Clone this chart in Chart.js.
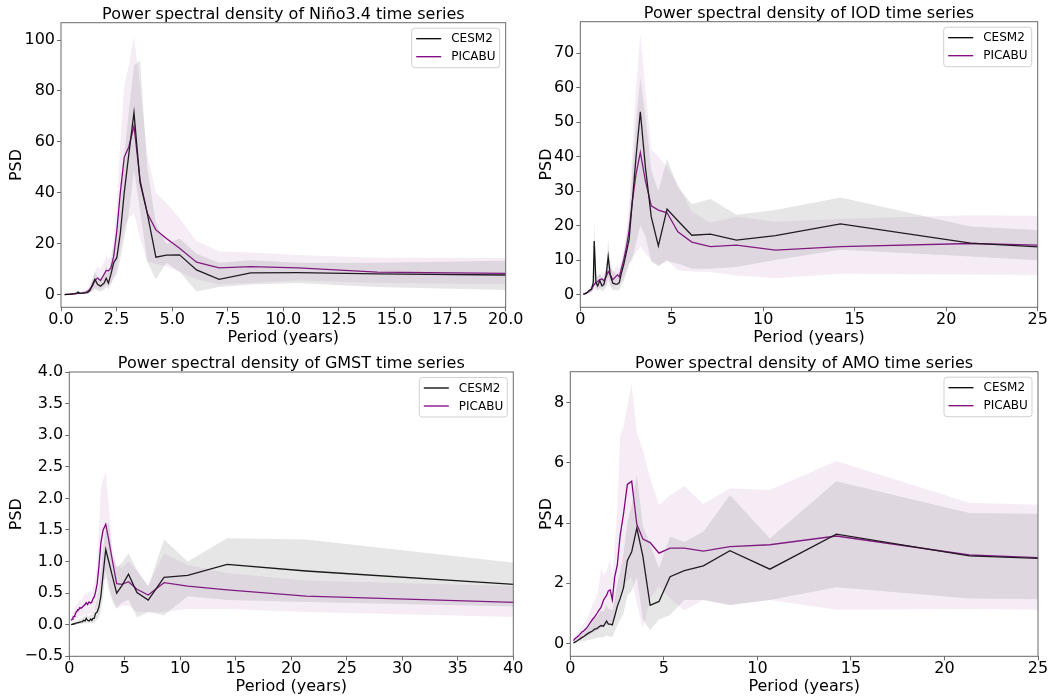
<!DOCTYPE html>
<html><head><meta charset="utf-8">
<script src="https://cdn.jsdelivr.net/npm/chart.js@4.4.1/dist/chart.umd.min.js"></script>
<style>
html,body{margin:0;padding:0;background:#fff;overflow:hidden;width:1058px;height:700px}
.panel{position:absolute;left:0;top:0;width:1058px;height:700px}
canvas{display:block}
</style></head><body>
<div class="panel"><canvas id="c1" width="1058" height="700"></canvas></div>
<div class="panel"><canvas id="c2" width="1058" height="700"></canvas></div>
<div class="panel"><canvas id="c3" width="1058" height="700"></canvas></div>
<div class="panel"><canvas id="c4" width="1058" height="700"></canvas></div>
<script>
// ---- Data (period in years) ----
const periods = [0.167, 0.251, 0.333, 0.427, 0.502, 0.610, 0.711, 0.762, 0.853, 0.948,
  1.067, 1.185, 1.293, 1.422, 1.524, 1.641, 1.778, 1.939, 2.032, 2.133,
  2.246, 2.370, 2.510, 2.667, 2.844, 3.048, 3.282, 3.556, 3.879, 4.267,
  4.741, 5.333, 6.095, 7.111, 8.533, 10.667, 14.222, 21.333, 42.667];

// Niño3.4
const ninoCesm = [0.0, 0.05, 0.1, 0.2, 0.3, 0.4, 0.6, 1.0, 0.5, 0.6,
  0.7, 0.8, 1.5, 4.0, 6.0, 4.0, 3.3, 4.5, 6.4, 4.5,
  8.0, 12.5, 14.5, 24, 40, 55, 71.5, 44, 32, 14.7,
  15.5, 15.6, 9.7, 6.0, 8.5, 8.6, 8.1, 7.6, 7.0];
const ninoPicabu = [0.0, 0.05, 0.1, 0.15, 0.2, 0.3, 0.4, 0.5, 0.5, 0.6,
  0.8, 1.2, 2.0, 3.5, 5.5, 6.5, 5.5, 8.0, 9.5, 9.3,
  10.5, 15, 25, 40, 54, 58, 66.2, 45, 32, 25.4,
  22, 18.2, 12.7, 10.5, 11, 10.5, 8.8, 8.2, 7.6];
const ninoCesmHi = [0.05, 0.1, 0.2, 0.4, 0.5, 0.7, 1.0, 1.5, 1.0, 1.1,
  1.3, 1.6, 2.8, 6.5, 9, 7, 6.5, 8, 11, 9,
  13, 19, 22, 36, 55, 72, 90, 92, 50, 28,
  20, 22, 16, 12.5, 13.5, 12.5, 12.5, 13.5, 14];
const ninoCesmLo = [0, 0, 0.02, 0.05, 0.1, 0.15, 0.2, 0.4, 0.2, 0.2,
  0.3, 0.3, 0.5, 1.5, 2.5, 1.5, 1.2, 2.0, 3.0, 2.0,
  4, 6.5, 8, 14, 22, 32, 49, 33, 13, 6,
  12.5, 9, 1.2, 3, 4, 4.5, 3, 1.5, 0.5];
const ninoPicabuHi = [0.05, 0.1, 0.2, 0.3, 0.4, 0.5, 0.7, 0.9, 0.9, 1.1,
  1.5, 2.2, 3.5, 6, 9, 11, 10, 13, 15.5, 14,
  15, 22, 35, 60, 82, 90, 101.5, 82, 55, 40,
  36, 30, 21, 17, 16.5, 15.5, 14.5, 14.5, 15];
const ninoPicabuLo = [0, 0, 0.02, 0.05, 0.05, 0.1, 0.15, 0.2, 0.2, 0.2,
  0.3, 0.5, 0.8, 1.5, 2.0, 2.5, 2.3, 3, 4, 3.5,
  4.5, 6.5, 11, 18, 26, 30, 32, 22, 13, 12,
  11, 9, 6, 4, 4.5, 5.5, 4.5, 4, 3.5];

// IOD
const iodCesm = [0.1, 0.2, 0.4, 0.8, 1.2, 1.5, 3.5, 15.5, 3.5, 2.5,
  4, 2.5, 3.0, 6, 11, 5.5, 3.3, 3.0, 3.0, 3.5,
  6.2, 8.6, 12, 16, 27, 40, 53, 37, 22.5, 14.1,
  24.8, 21.4, 17.2, 17.5, 15.8, 17.1, 20.5, 14.9, 8.5];
const iodPicabu = [0.1, 0.3, 0.5, 0.8, 1.1, 1.5, 2.5, 2.9, 3.4, 3.8,
  4.3, 4.5, 4.0, 5.2, 6.7, 5.7, 4.3, 5.2, 5.7, 5.1,
  7.5, 10, 13.5, 18.5, 27, 35, 41.2, 33, 25.7, 24.5,
  23.7, 18.2, 15.2, 13.9, 14.3, 12.9, 13.9, 14.8, 12];
const iodCesmHi = [0.2, 0.5, 0.8, 1.3, 1.8, 2.5, 5, 22, 6, 5,
  6, 5, 5, 8, 16, 9, 7, 6, 6, 6.5,
  9, 12, 16, 22, 36, 50, 63, 52, 36, 30,
  39.4, 31.2, 26.2, 27.7, 23.1, 24.5, 28.1, 19.7, 14];
const iodCesmLo = [0, 0.05, 0.1, 0.3, 0.5, 0.6, 1.5, 5, 1.5, 1.0,
  1.5, 1.0, 1.2, 2.5, 5, 2.5, 1.3, 1.2, 1.2, 1.3,
  3, 4, 6, 9, 10, 15, 20, 17, 9.5, 8.2,
  9.7, 9, 7.5, 7.5, 8, 10, 13, 11, 5];
const iodPicabuHi = [0.2, 0.5, 0.8, 1.2, 1.6, 2.5, 4, 4.5, 5, 5.5,
  6, 6.5, 6, 7, 9, 8, 6.5, 8, 8.5, 7.5,
  10, 13, 18, 26, 42, 60, 75.5, 60, 42, 40,
  37, 32, 24, 20.8, 22.6, 21.1, 22, 23, 22];
const iodPicabuLo = [0, 0.1, 0.2, 0.4, 0.5, 0.7, 1.2, 1.4, 1.6, 1.8,
  2, 2.2, 2, 2.5, 3.5, 2.8, 2, 2.5, 2.8, 2.5,
  3.5, 5, 7, 9, 11, 12, 14, 12, 10, 8.5,
  10, 7, 6.7, 6.5, 5.5, 4.7, 6, 5.8, 5];

// GMST
const gmstCesm = [0.0, 0.005, 0.01, 0.015, 0.02, 0.025, 0.03, 0.03, 0.035, 0.04,
  0.045, 0.05, 0.07, 0.06, 0.1, 0.07, 0.06, 0.09, 0.07, 0.1,
  0.1, 0.18, 0.2, 0.28, 0.45, 0.8, 1.19, 1.0, 0.77, 0.50,
  0.62, 0.80, 0.51, 0.39, 0.75, 0.78, 0.955, 0.85, 0.61];
const gmstPicabu = [0.07, 0.09, 0.12, 0.13, 0.15, 0.2, 0.22, 0.24, 0.24, 0.27,
  0.26, 0.28, 0.30, 0.32, 0.35, 0.32, 0.36, 0.34, 0.36, 0.41,
  0.44, 0.52, 0.65, 0.92, 1.30, 1.50, 1.59, 1.34, 1.02, 0.65,
  0.64, 0.68, 0.56, 0.47, 0.665, 0.61, 0.55, 0.454, 0.34];
const gmstCesmHi = [0.01, 0.02, 0.03, 0.04, 0.05, 0.06, 0.07, 0.07, 0.08, 0.09,
  0.1, 0.11, 0.14, 0.13, 0.18, 0.14, 0.13, 0.17, 0.15, 0.2,
  0.2, 0.32, 0.4, 0.55, 0.85, 1.2, 1.55, 1.63, 1.1, 0.9,
  0.98, 1.13, 0.87, 0.60, 1.35, 1.0, 1.37, 1.35, 0.93];
const gmstCesmLo = [0, 0, 0, 0.005, 0.005, 0.01, 0.01, 0.01, 0.01, 0.01,
  0.015, 0.015, 0.02, 0.02, 0.03, 0.02, 0.02, 0.03, 0.02, 0.03,
  0.03, 0.06, 0.08, 0.12, 0.2, 0.45, 0.85, 0.6, 0.4, 0.27,
  0.35, 0.4, 0.12, 0.2, 0.15, 0.45, 0.39, 0.36, 0.28];
const gmstPicabuHi = [0.15, 0.17, 0.2, 0.22, 0.25, 0.3, 0.33, 0.35, 0.36, 0.4,
  0.38, 0.42, 0.45, 0.48, 0.52, 0.48, 0.53, 0.5, 0.53, 0.6,
  0.65, 0.78, 1.0, 1.5, 2.15, 2.3, 2.42, 1.9, 1.2, 0.95,
  0.9, 1.0, 0.85, 0.62, 1.13, 0.95, 0.82, 0.7, 0.6];
const gmstPicabuLo = [0.02, 0.03, 0.05, 0.06, 0.07, 0.1, 0.11, 0.12, 0.12, 0.14,
  0.13, 0.14, 0.15, 0.16, 0.18, 0.16, 0.18, 0.17, 0.18, 0.2,
  0.22, 0.26, 0.32, 0.45, 0.6, 0.7, 0.75, 0.55, 0.35, 0.25,
  0.3, 0.3, 0.2, 0.2, 0.2, 0.25, 0.25, 0.2, 0.11];

// AMO
const amoCesm = [0.02, 0.05, 0.08, 0.12, 0.15, 0.2, 0.23, 0.25, 0.3, 0.34,
  0.38, 0.42, 0.48, 0.5, 0.55, 0.6, 0.58, 0.75, 0.65, 0.65,
  0.62, 0.9, 1.23, 1.5, 1.85, 2.75, 3.05, 3.83, 2.9, 1.27,
  1.4, 2.22, 2.42, 2.58, 3.08, 2.47, 3.63, 2.91, 2.45];
const amoPicabu = [0.1, 0.16, 0.2, 0.25, 0.3, 0.38, 0.42, 0.45, 0.5, 0.58,
  0.7, 0.8, 0.88, 1.0, 1.1, 1.2, 1.45, 1.6, 1.75, 1.78,
  1.45, 2.2, 2.6, 3.6, 4.3, 5.28, 5.39, 3.96, 3.47, 3.35,
  3.0, 3.17, 3.17, 3.07, 3.22, 3.28, 3.57, 2.94, 2.45];
const amoCesmHi = [0.06, 0.1, 0.15, 0.2, 0.28, 0.35, 0.4, 0.45, 0.55, 0.6,
  0.7, 0.75, 0.85, 0.9, 1.0, 1.1, 1.05, 1.3, 1.15, 1.15,
  1.1, 1.5, 2.0, 2.4, 3.0, 4.0, 4.6, 5.6, 3.9, 3.3,
  2.5, 3.55, 3.37, 3.71, 4.93, 3.49, 5.39, 4.33, 4.2];
const amoCesmLo = [0, 0.01, 0.02, 0.04, 0.05, 0.07, 0.08, 0.09, 0.1, 0.12,
  0.13, 0.15, 0.17, 0.18, 0.2, 0.22, 0.2, 0.28, 0.24, 0.24,
  0.22, 0.4, 0.6, 0.8, 1.0, 1.6, 1.75, 2.2, 0.8, 0.45,
  0.8, 0.95, 1.45, 1.45, 1.28, 1.45, 1.87, 1.5, 1.35];
const amoPicabuHi = [0.18, 0.25, 0.3, 0.38, 0.45, 0.55, 0.65, 0.7, 0.8, 0.9,
  1.1, 1.3, 1.4, 1.6, 1.9, 2.5, 2.3, 2.4, 2.6, 2.8,
  2.2, 3.2, 4.5, 6.9, 7.2, 7.9, 8.6, 7.0, 6.45, 5.5,
  4.6, 4.93, 5.23, 4.63, 5.15, 5.1, 6.06, 4.67, 4.3];
const amoPicabuLo = [0.02, 0.05, 0.07, 0.1, 0.12, 0.16, 0.18, 0.2, 0.22, 0.25,
  0.3, 0.35, 0.38, 0.42, 0.45, 0.5, 0.6, 0.65, 0.7, 0.72,
  0.6, 0.9, 1.2, 1.6, 1.9, 2.1, 2.2, 1.3, 0.5, 1.5,
  1.9, 1.5, 1.1, 1.45, 1.28, 1.45, 1.12, 1.15, 1.0];

// Tick labels
const ninoXTicks = [0, 2.5, 5, 7.5, 10, 12.5, 15, 17.5, 20];
const ninoYTicks = [0, 20, 40, 60, 80, 100];
const iodXTicks = [0, 5, 10, 15, 20, 25];
const iodYTicks = [0, 10, 20, 30, 40, 50, 60, 70];
const gmstXTicks = [0, 5, 10, 15, 20, 25, 30, 35, 40];
const gmstYTicks = [-0.5, 0, 0.5, 1.0, 1.5, 2.0, 2.5, 3.0, 3.5, 4.0];
const amoXTicks = [0, 5, 10, 15, 20, 25];
const amoYTicks = [0, 2, 4, 6, 8];

const seriesNames = ['CESM2', 'PICABU'];
const xLabel = 'Period (years)';
const yLabel = 'PSD';

// ---- Rendering ----
const FONT = '"DejaVu Sans", sans-serif';
const SPINE = '#6a6a6a';
const LINE_CESM = '#000000';
const LINE_PIC = '#800080';
const BAND_CESM = 'rgba(128,128,128,0.2)';
const BAND_PIC = 'rgba(128,0,128,0.075)';

function fmt(v, dec) {
  const s = Math.abs(v).toFixed(dec);
  return v < 0 ? '\u2212' + s : s;
}
function pts(ys) { return periods.map((p, i) => ({x: p, y: ys[i]})); }

const decor = {
  id: 'panelDecor',
  afterDraw(chart, args, opts) {
    const ctx = chart.ctx, a = chart.chartArea;
    ctx.save();
    ctx.strokeStyle = SPINE; ctx.lineWidth = 1;
    ctx.strokeRect(a.left, a.top, a.right - a.left, a.bottom - a.top);
    // title
    ctx.fillStyle = '#000';
    ctx.font = '16px ' + FONT;
    ctx.textAlign = 'center'; ctx.textBaseline = 'middle';
    ctx.fillText(opts.title, (a.left + a.right) / 2, a.top - 8);
    // legend
    const w = 88, h = 39.5;
    const bx = a.right - 6 - w, by = a.top + 5.5;
    ctx.beginPath();
    if (ctx.roundRect) ctx.roundRect(bx, by, w, h, 3); else ctx.rect(bx, by, w, h);
    ctx.fillStyle = 'rgba(255,255,255,0.85)'; ctx.fill();
    ctx.strokeStyle = 'rgba(204,204,204,0.9)'; ctx.lineWidth = 1; ctx.stroke();
    ctx.font = '12px ' + FONT; ctx.textAlign = 'left'; ctx.textBaseline = 'middle';
    const items = [[seriesNames[0], LINE_CESM], [seriesNames[1], LINE_PIC]];
    items.forEach((it, i) => {
      const y = by + 10.5 + i * 18;
      ctx.strokeStyle = it[1]; ctx.lineWidth = 1.3;
      ctx.beginPath(); ctx.moveTo(bx + 4.5, y); ctx.lineTo(bx + 29.5, y); ctx.stroke();
      ctx.fillStyle = '#000';
      ctx.fillText(it[0], bx + 39.5, y + 0.5);
    });
    ctx.restore();
  }
};

function makePanel(id, p) {
  const xAxisH = 40.3;
  const yAxisW = p.left - p.padLeft;
  const bandDs = (ys, color, fill) => ({
    data: pts(ys), borderWidth: 0, borderColor: 'rgba(0,0,0,0)', backgroundColor: color,
    pointRadius: 0, fill: fill, tension: 0
  });
  const lineDs = (label, ys, color) => ({
    label, data: pts(ys), borderColor: color, borderWidth: 1.3, pointRadius: 0,
    fill: false, tension: 0
  });
  new Chart(document.getElementById(id), {
    type: 'line',
    data: {
      datasets: [
        bandDs(p.cesmHi, BAND_CESM, '+1'),
        bandDs(p.cesmLo, BAND_CESM, false),
        bandDs(p.picHi, BAND_PIC, '+1'),
        bandDs(p.picLo, BAND_PIC, false),
        lineDs(seriesNames[0], p.cesm, LINE_CESM),
        lineDs(seriesNames[1], p.pic, LINE_PIC)
      ]
    },
    options: {
      responsive: false, animation: false, devicePixelRatio: 1,
      events: [],
      layout: { padding: { left: p.padLeft, right: 1058 - p.right, top: p.top, bottom: 700 - (p.bottom + xAxisH) } },
      scales: {
        x: {
          type: 'linear', min: p.xMin, max: p.xMax,
          afterBuildTicks: (ax) => { ax.ticks = p.xTicks.map(v => ({value: v})); },
          afterFit: (ax) => { ax.height = xAxisH; },
          ticks: { autoSkip: false, maxRotation: 0, padding: 0.5, color: '#000',
                   font: { family: FONT, size: 16, lineHeight: 1 },
                   callback: (v) => fmt(v, p.xDec) },
          grid: { drawOnChartArea: false, drawTicks: true, tickLength: 4, color: SPINE },
          border: { display: false },
          title: { display: true, text: xLabel, color: '#000', padding: 0,
                   font: { family: FONT, size: 16, lineHeight: 1.2 } }
        },
        y: {
          type: 'linear', min: p.yMin, max: p.yMax,
          afterBuildTicks: (ax) => { ax.ticks = p.yTicks.map(v => ({value: v})); },
          afterFit: (ax) => { ax.width = yAxisW; },
          ticks: { autoSkip: false, padding: 2, color: '#000',
                   font: { family: FONT, size: 16, lineHeight: 1 },
                   callback: (v) => fmt(v, p.yDec) },
          grid: { drawOnChartArea: false, drawTicks: true, tickLength: 4, color: SPINE },
          border: { display: false },
          title: { display: true, text: yLabel, color: '#000', padding: 0,
                   font: { family: FONT, size: 16, lineHeight: 1.2 } }
        }
      },
      plugins: {
        legend: { display: false }, tooltip: { enabled: false },
        panelDecor: { title: p.title }
      }
    },
    plugins: [decor]
  });
}

makePanel('c1', {
  title: 'Power spectral density of Niño3.4 time series',
  left: 61, right: 505.7, top: 22.7, bottom: 307.3, padLeft: 6.9,
  xMin: 0, xMax: 20, yMin: -5.0, yMax: 106.8, xTicks: ninoXTicks, yTicks: ninoYTicks, xDec: 1, yDec: 0,
  cesm: ninoCesm, pic: ninoPicabu, cesmHi: ninoCesmHi, cesmLo: ninoCesmLo, picHi: ninoPicabuHi, picLo: ninoPicabuLo
});
makePanel('c2', {
  title: 'Power spectral density of IOD time series',
  left: 580.3, right: 1037.7, top: 21.7, bottom: 307.3, padLeft: 536.9,
  xMin: 0, xMax: 25, yMin: -3.7, yMax: 79.1, xTicks: iodXTicks, yTicks: iodYTicks, xDec: 0, yDec: 0,
  cesm: iodCesm, pic: iodPicabu, cesmHi: iodCesmHi, cesmLo: iodCesmLo, picHi: iodPicabuHi, picLo: iodPicabuLo
});
makePanel('c3', {
  title: 'Power spectral density of GMST time series',
  left: 69.3, right: 513.3, top: 372, bottom: 656.3, padLeft: 7.4,
  xMin: 0, xMax: 40, yMin: -0.5, yMax: 4.0, xTicks: gmstXTicks, yTicks: gmstYTicks, xDec: 0, yDec: 1,
  cesm: gmstCesm, pic: gmstPicabu, cesmHi: gmstCesmHi, cesmLo: gmstCesmLo, picHi: gmstPicabuHi, picLo: gmstPicabuLo
});
makePanel('c4', {
  title: 'Power spectral density of AMO time series',
  left: 570.3, right: 1038, top: 371.7, bottom: 656.3, padLeft: 537.1,
  xMin: 0, xMax: 25, yMin: -0.42, yMax: 9.02, xTicks: amoXTicks, yTicks: amoYTicks, xDec: 0, yDec: 0,
  cesm: amoCesm, pic: amoPicabu, cesmHi: amoCesmHi, cesmLo: amoCesmLo, picHi: amoPicabuHi, picLo: amoPicabuLo
});
</script>
</body></html>
